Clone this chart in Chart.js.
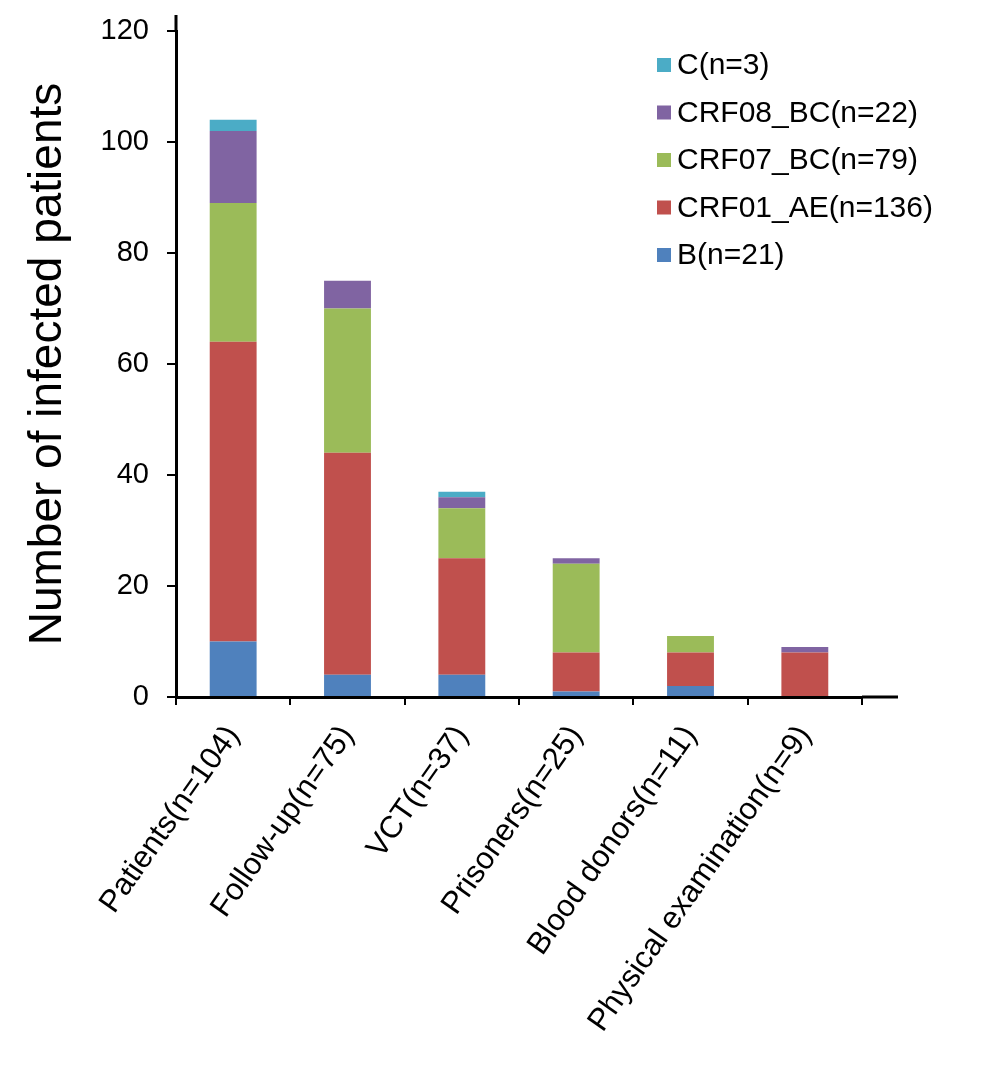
<!DOCTYPE html>
<html>
<head>
<meta charset="utf-8">
<script src="https://cdn.jsdelivr.net/npm/chart.js@4.4.0/dist/chart.umd.min.js"></script>
<style>
  html, body { margin: 0; padding: 0; background: #fff; }
  #wrap { width: 998px; height: 1083px; }
</style>
</head>
<body>
<div id="wrap"><canvas id="subtypeChart" width="998" height="1083"></canvas></div>
<script>
const groups = ["Patients(n=104)", "Follow-up(n=75)", "VCT(n=37)", "Prisoners(n=25)", "Blood donors(n=11)", "Physical examination(n=9)"];
const subtypeB     = [10, 4, 4, 1, 2, 0];
const crf01AE      = [54, 40, 21, 7, 6, 8];
const crf07BC      = [25, 26, 9, 16, 3, 0];
const crf08BC      = [13, 5, 2, 1, 0, 1];
const subtypeC     = [2, 0, 1, 0, 0, 0];
const seriesNames  = ["B(n=21)", "CRF01_AE(n=136)", "CRF07_BC(n=79)", "CRF08_BC(n=22)", "C(n=3)"];
const yTicks       = [0, 20, 40, 60, 80, 100, 120];

const FONT = "'Liberation Sans', Arial, sans-serif";
const colors = ["#4f81bd", "#c0504d", "#9bbb59", "#8064a2", "#4bacc6"];

// legend drawn inside the plot, top item = last series
const insideLegend = {
  id: "insideLegend",
  afterDraw(chart) {
    const { ctx, chartArea } = chart;
    const sets = chart.data.datasets.slice().reverse();
    ctx.save();
    ctx.font = "30px " + FONT;
    ctx.textBaseline = "middle";
    sets.forEach((ds, i) => {
      const x = chartArea.right - 205, y = chartArea.top + 34 + i * 47.5;
      ctx.fillStyle = ds.backgroundColor;
      ctx.fillRect(x, y - 7, 14, 14);
      ctx.fillStyle = "#000";
      ctx.fillText(ds.label, x + 20, y + 1);
    });
    ctx.restore();
  }
};

// axis lines run a little past the last tick, as in the original
const axisOverhang = {
  id: "axisOverhang",
  afterDraw(chart) {
    const { ctx, chartArea } = chart;
    ctx.save();
    ctx.strokeStyle = "#000";
    ctx.lineWidth = 3;
    ctx.beginPath();
    ctx.moveTo(chartArea.left, chartArea.top);
    ctx.lineTo(chartArea.left, chartArea.top - 16);
    ctx.moveTo(chartArea.right, chartArea.bottom);
    ctx.lineTo(chartArea.right + 36, chartArea.bottom);
    ctx.stroke();
    ctx.restore();
  }
};

const data = [subtypeB, crf01AE, crf07BC, crf08BC, subtypeC];

new Chart(document.getElementById("subtypeChart"), {
  type: "bar",
  data: {
    labels: groups,
    datasets: data.map((vals, i) => ({
      label: seriesNames[i], data: vals, backgroundColor: colors[i],
      borderWidth: 0, barPercentage: 0.41, categoryPercentage: 1
    }))
  },
  options: {
    responsive: false, animation: false, devicePixelRatio: 1,
    layout: { padding: { top: 31, right: 136, bottom: 0, left: 0 } },
    plugins: { legend: { display: false }, tooltip: { enabled: false } },
    scales: {
      x: {
        stacked: true,
        grid: { display: true, drawOnChartArea: false, drawTicks: true, tickLength: 8, color: "#000", lineWidth: 2 },
        border: { color: "#000", width: 3 },
        ticks: { color: "#000", font: { family: FONT, size: 31 }, minRotation: 55, maxRotation: 55, padding: 14 },
        afterFit(s) { s.height = 386; s.paddingLeft = 0; s.paddingRight = 0; }
      },
      y: {
        stacked: true, min: 0, max: 120,
        afterBuildTicks(s) { s.ticks = yTicks.map(v => ({ value: v })); },
        grid: { display: true, drawOnChartArea: false, drawTicks: true, tickLength: 9, color: "#000", lineWidth: 2 },
        border: { color: "#000", width: 3 },
        ticks: { color: "#000", font: { family: FONT, size: 29 }, padding: 18 },
        title: { display: true, text: "Number of infected patients", color: "#000", font: { family: FONT, size: 46 }, padding: { top: 21 } },
        afterFit(s) { s.width = 176; s.paddingTop = 0; s.paddingBottom = 0; }
      }
    }
  },
  plugins: [insideLegend, axisOverhang]
});
</script>
</body>
</html>
